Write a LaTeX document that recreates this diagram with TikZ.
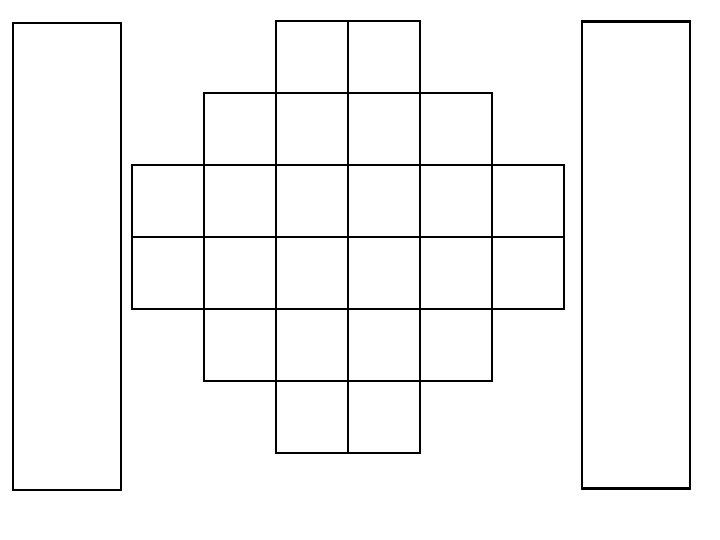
\documentclass[tikz,border=0pt]{standalone}
\begin{document}
\begin{tikzpicture}[x=1bp,y=1bp,
  cell/.style={draw=black,line width=2.6bp,minimum size=72bp,inner sep=0pt,outer sep=0pt},
  tallbox/.style={draw=black,line width=2.6bp,minimum width=108bp,minimum height=467bp,inner sep=0pt,outer sep=0pt}]
\useasboundingbox (0,0) rectangle (720,540);
\node[tallbox] (left) at (67,283.5) {};
\node[tallbox] (right) at (636,285) {};
% row r: list of columns
\foreach \r/\cmin/\cmax in {0/2/3,1/1/4,2/0/5,3/0/5,4/1/4,5/2/3}{
  \foreach \c in {\cmin,...,\cmax}{
    \node[cell] (c-\r-\c) at ({168+72*\c},{540-(57+72*\r)}) {};
  }
}
\end{tikzpicture}
\end{document}
